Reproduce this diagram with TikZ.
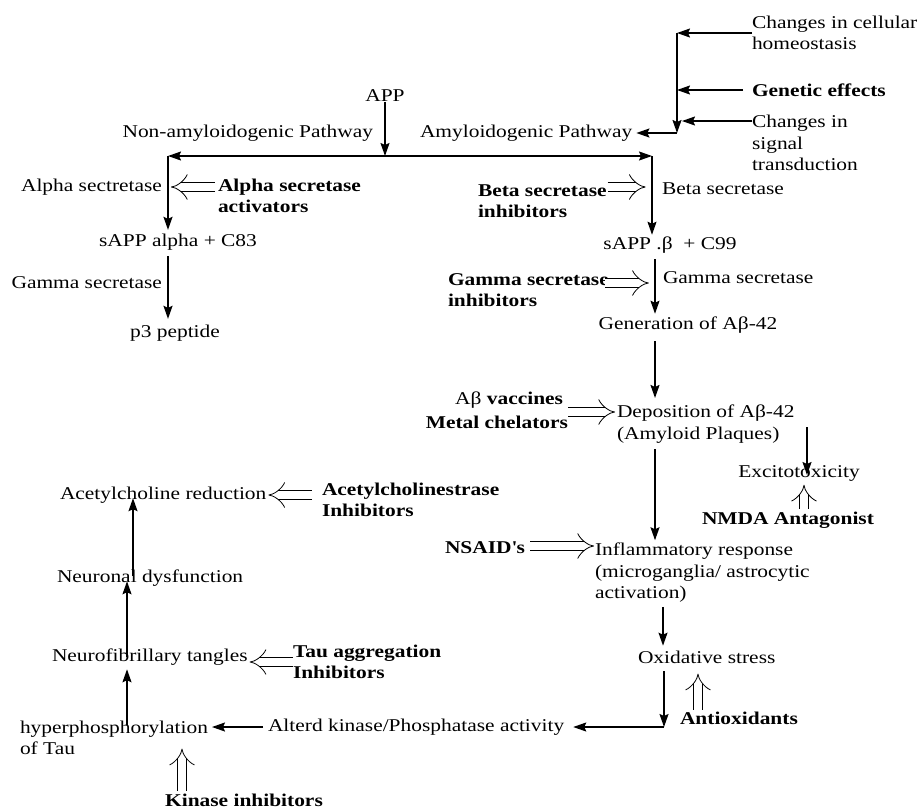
\documentclass[tikz,border=0pt]{standalone}
\usepackage{fontspec}
\setmainfont{Liberation Serif}[FakeStretch=1.19]
\usetikzlibrary{arrows.meta}
\begin{document}
\begin{tikzpicture}[x=1pt,y=-1pt,
  font=\fontsize{18}{21.5}\selectfont,
  every node/.style={inner sep=0pt, outer sep=0pt},
  txt/.style={align=left},
  bld/.style={align=left, font=\fontsize{18}{21.5}\selectfont\bfseries},
  arr/.style={line width=1.5pt, -{Stealth[length=13pt,width=9pt,inset=2pt]}},
  dbl/.style={double, double distance=8.5pt, line width=0.8pt, -{Implies}}]
\useasboundingbox (0,0) rectangle (920,809);

% ---------- top right ----------
\node[txt, anchor=west] (chc) at (752,33) {Changes in cellular\\homeostasis};
\node[bld, anchor=west] (gen) at (752,90) {Genetic effects};
\node[txt, anchor=west] (cst) at (752,143) {Changes in\\signal\\transduction};
\coordinate (c1) at (677,33);
\coordinate (c2) at (677,133);
\coordinate (cstin) at (752,121);

% ---------- APP split ----------
\node (app) at (385,96) {APP};
\node[anchor=east] (nonamy) at (373,133) {Non-amyloidogenic Pathway};
\node[anchor=west] (amy) at (420,133) {Amyloidogenic Pathway};
\coordinate (top) at (385,156);
\coordinate (L) at (168,156);
\coordinate (R) at (652,156);

% ---------- left branch ----------
\node[anchor=east] (alphas) at (162,187) {Alpha sectretase};
\node[bld, anchor=west] (asact) at (218,196) {Alpha secretase\\activators};
\node (sappa) at (178,242) {sAPP alpha + C83};
\node[anchor=east] (gams1) at (162,283) {Gamma secretase};
\node (p3) at (175,333) {p3 peptide};

% ---------- right branch ----------
\node[bld, anchor=west] (bsi) at (478,201) {Beta secretase\\inhibitors};
\node[anchor=west] (bs) at (662,189) {Beta secretase};
\node (sappb) at (670,245) {sAPP .β~ + C99};
\coordinate (R2) at (655,0);
\node[bld, anchor=west] (gsi) at (448,290) {Gamma secretase\\inhibitors};
\node[anchor=west] (gs) at (663,278) {Gamma secretase};
\node (gen42) at (688,325) {Generation of Aβ-42};
\node[bld, anchor=east] (av) at (563,400) {{\mdseries Aβ} vaccines};
\node[bld, anchor=east] (mc) at (568,422) {Metal chelators};
\node[txt, anchor=west] (dep) at (617,424) {Deposition of Aβ-42\\(Amyloid Plaques)};
\node (exc) at (799,473) {Excitotoxicity};
\coordinate (ex0) at (807,427);
\node[bld] (nmda) at (788,520) {NMDA Antagonist};
\node[bld, anchor=east] (nsaid) at (525,548) {NSAID\textquotesingle s};
\node[txt, anchor=west] (infl) at (595,573) {Inflammatory response\\(microganglia/ astrocytic\\activation)};
\coordinate (R3) at (663,0);
\node[anchor=west] (ox) at (638,657) {Oxidative stress};
\coordinate (corner) at (664,727);
\node[bld, anchor=west] (antiox) at (680,718) {Antioxidants};

% ---------- bottom left ----------
\node[anchor=west] (alt) at (268,727) {Alterd kinase/Phosphatase activity};
\node[txt, anchor=west] (hyp) at (20,738) {hyperphosphorylation\\of Tau};
\node[bld] (kin) at (244,800) {Kinase inhibitors};
\node[anchor=west] (tan) at (52,657) {Neurofibrillary tangles};
\node[bld, anchor=west] (tai) at (293,662) {Tau aggregation\\Inhibitors};
\node[anchor=west] (neu) at (57,578) {Neuronal dysfunction};
\node[anchor=west] (ach) at (60,495) {Acetylcholine reduction};
\node[bld, anchor=west] (aci) at (322,500) {Acetylcholinestrase\\Inhibitors};
\coordinate (xL) at (127,0);
\coordinate (xL2) at (133,0);
\coordinate (xD1) at (698,0);
\coordinate (xD2) at (182,0);

% ---------- connectors ----------
\draw[arr] (chc.west) -- (c1);
\draw[arr] (c1) -- (c2);
\draw[arr] (c2) -- ([xshift=4pt]amy.east);
\draw[arr, shorten <=9pt] (gen.west) -- (gen.west -| c1);
\draw[arr, shorten >=5pt] (cstin) -- (cstin -| c1);

\draw[arr] (app) -- (top);
\draw[arr] (top) -- (L);
\draw[arr] (top) -- (R);
\draw[arr] (L) -- ([yshift=4pt]sappa.north -| L);
\draw[arr] (R) -- ([yshift=2pt]sappb.north -| R);
\draw[dbl] ([xshift=-3pt,yshift=9pt]asact.west) -- ([xshift=9pt]alphas.east);
\draw[arr] ([yshift=-6pt]sappa.south -| L) -- ([yshift=6pt]p3.north -| L);

\draw[dbl] ([xshift=1pt,yshift=14pt]bsi.east) -- ++(38,0);
\draw[arr] ([yshift=-6pt]sappb.south -| R2) -- ([yshift=3pt]gen42.north -| R2);
\draw[dbl] ([xshift=-4pt,yshift=7pt]gsi.east) -- ++(44,0);
\draw[arr] ([yshift=-8pt]gen42.south -| R2) -- ([yshift=7pt]dep.north -| R2);
\draw[dbl] ([yshift=10pt]mc.east) -- ++(47,0);
\draw[arr] ([yshift=-6pt]dep.south -| R2) -- ([yshift=3pt]infl.north -| R2);
\draw[arr] (ex0) -- ([yshift=-2pt]exc.center -| ex0);
\draw[dbl] ([yshift=3pt,xshift=-3pt]nmda.north -| ex0) -- ++(0,-24);
\draw[dbl] ([xshift=5pt,yshift=2pt]nsaid.east) -- ++(64,0);
\draw[arr] ([yshift=-4pt]infl.south -| R3) -- ([yshift=5pt]ox.north -| R3);
\draw[arr] ([yshift=-8pt]ox.south -| corner) -- (corner);
\draw[arr] (corner) -- ([xshift=9pt]alt.east);
\draw[dbl] ([yshift=2pt]antiox.north -| xD1) -- ++(0,-36);

\draw[arr, shorten <=5pt] (alt.west) -- ([xshift=4pt]alt.west -| hyp.east);
\draw[arr] ([yshift=-4pt]hyp.north -| xL) -- ([yshift=-4pt]tan.south -| xL);
\draw[dbl] ([yshift=3pt]kin.north -| xD2) -- ++(0,-42);
\draw[dbl] (tai.west) -- ([xshift=2pt]tan.east |- tai.west);
\draw[arr] ([yshift=-8pt]tan.north -| xL) -- ([yshift=5pt]neu.south -| xL);
\draw[arr] ([yshift=-6pt]neu.north -| xL2) -- ([yshift=5pt]ach.south -| xL2);
\draw[dbl] ([xshift=-10pt]aci.west |- ach.east) -- ([xshift=2pt]ach.east);
\end{tikzpicture}
\end{document}
